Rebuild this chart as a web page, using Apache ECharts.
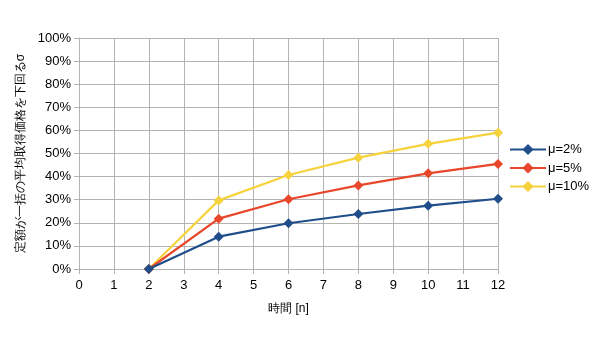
<!DOCTYPE html>
<html>
<head>
<meta charset="utf-8">
<script src="https://cdn.jsdelivr.net/npm/echarts@6/dist/echarts.min.js"></script>
<style>
  html, body { margin: 0; padding: 0; background: #fff; }
  #chart { width: 600px; height: 337px; }
</style>
</head>
<body>
<div id="chart"></div>
<script>
// Time steps n
const periods = [2, 4, 6, 8, 10, 12];
// Share (%) for each drift μ
const mu2 = [0, 14.0, 19.8, 23.8, 27.4, 30.4];
const mu5 = [0, 21.8, 30.2, 36.2, 41.4, 45.5];
const mu10 = [0, 29.7, 40.7, 48.2, 54.2, 59.0];
const seriesNames = ['μ=2%', 'μ=5%', 'μ=10%'];
const colors = ['#1f4e8a', '#e8472b', '#f6d23c'];

const font = '"Liberation Sans", Arial, sans-serif';
const gridColor = '#b3b3b3';

const pairs = vals => periods.map((n, i) => [n, vals[i]]);

const chart = echarts.init(document.getElementById('chart'), null, { renderer: 'canvas' });
chart.setOption({
  animation: false,
  backgroundColor: '#ffffff',
  color: colors,
  textStyle: { fontFamily: font },
  grid: { left: 79, right: 102, top: 38, bottom: 68, containLabel: false },
  legend: {
    orient: 'vertical',
    left: 509,
    top: 143,
    itemWidth: 36,
    itemHeight: 14,
    itemGap: 5.5,
    padding: 0,
    textStyle: { fontFamily: font, fontSize: 13, color: '#000', padding: [0, 0, 0, -3] },
    data: seriesNames
  },
  xAxis: {
    type: 'value',
    min: 0, max: 12, interval: 1,
    name: '時間 [n]',
    nameLocation: 'middle',
    nameGap: 34,
    nameTextStyle: { fontFamily: font, fontSize: 12, color: '#000' },
    axisLine: { show: true, lineStyle: { color: gridColor } },
    axisTick: { show: true, length: 5, lineStyle: { color: gridColor } },
    axisLabel: { fontFamily: font, fontSize: 13, color: '#000', margin: 10 },
    splitLine: { show: true, lineStyle: { color: gridColor, width: 1 } }
  },
  yAxis: {
    type: 'value',
    min: 0, max: 100, interval: 10,
    name: '定額が一括の平均取得価格を下回るσ',
    nameLocation: 'middle',
    nameRotate: 90,
    nameGap: 41,
    nameTextStyle: { fontFamily: font, fontSize: 12, color: '#000' },
    axisLine: { show: true, lineStyle: { color: gridColor } },
    axisTick: { show: true, length: 5, lineStyle: { color: gridColor } },
    axisLabel: { fontFamily: font, fontSize: 13, color: '#000', margin: 8, formatter: '{value}%' },
    splitLine: { show: true, lineStyle: { color: gridColor, width: 1 } }
  },
  series: [mu2, mu5, mu10].map((vals, i) => ({
    name: seriesNames[i],
    type: 'line',
    data: pairs(vals),
    symbol: 'diamond',
    symbolSize: 10,
    lineStyle: { width: 2.2, color: colors[i] },
    itemStyle: { color: colors[i] },
    z: 3 - i
  }))
});
</script>
</body>
</html>
